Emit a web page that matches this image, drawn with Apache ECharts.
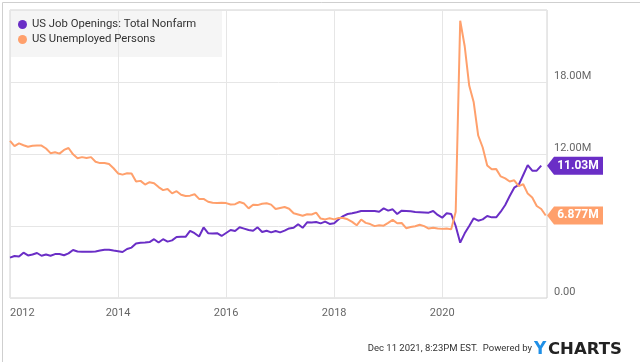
<!DOCTYPE html>
<html><head><meta charset="utf-8">
<script src="https://cdn.jsdelivr.net/npm/echarts@6/dist/echarts.min.js"></script>
<style>html,body{margin:0;padding:0;background:#fff}#c{width:640px;height:362px}</style>
</head><body><div id="c"></div>
<script>
// Monthly data (millions), first month = Dec 2011, plotted at month end
const startYear = 2011, startMonth = 12;
const seriesNames = ['US Job Openings: Total Nonfarm', 'US Unemployed Persons'];
const jobOpenings = [3.36,
  3.50,3.45,3.78,3.55,3.62,3.75,3.52,3.62,3.52,3.66,3.66,3.56,
  3.72,4.00,3.88,3.85,3.85,3.85,3.88,3.95,4.02,4.02,3.95,3.90,
  3.83,4.08,4.20,4.55,4.60,4.62,4.66,4.90,4.62,4.90,4.70,4.80,
  5.08,5.10,5.10,5.60,5.40,5.12,5.88,5.40,5.38,5.40,5.17,5.42,
  5.67,5.58,5.89,5.78,5.67,5.60,5.89,5.50,5.60,5.47,5.58,5.47,
  5.62,5.80,5.85,6.15,5.85,6.31,6.30,6.33,6.22,6.36,6.17,6.22,
  6.56,6.83,7.00,7.06,7.15,7.25,7.25,7.25,7.25,7.19,7.47,7.28,
  7.39,7.00,7.28,7.25,7.22,7.17,7.15,7.13,7.11,7.25,6.92,6.69,
  7.06,7.00,6.00,4.61,5.39,6.00,6.64,6.44,6.55,6.83,6.72,6.72,
  7.19,7.75,8.50,9.19,9.42,10.25,11.08,10.61,10.61,11.03];
const unemployed = [13.10,
  12.65,12.88,12.73,12.60,12.69,12.70,12.70,12.46,12.07,12.14,12.03,12.34,
  12.50,11.97,11.65,11.74,11.67,11.74,11.36,11.24,11.25,11.16,10.81,10.38,
  10.28,10.39,10.38,9.70,9.76,9.45,9.65,9.57,9.24,8.99,9.09,8.72,
  8.90,8.61,8.50,8.53,8.64,8.26,8.26,8.02,7.93,7.92,7.93,7.91,
  7.79,7.82,8.00,7.87,7.47,7.77,7.74,7.85,7.90,7.78,7.41,7.50,
  7.58,7.44,7.06,6.96,6.86,6.98,6.96,7.12,6.62,6.55,6.64,6.55,
  6.66,6.67,6.56,6.34,6.06,6.54,6.26,6.16,5.99,6.06,6.03,6.26,
  6.51,6.23,6.25,5.82,5.91,5.98,6.10,5.99,5.79,5.86,5.80,5.76,
  5.80,5.72,7.19,23.11,20.98,17.70,16.31,13.54,12.54,11.05,10.73,10.74,
  10.13,9.97,9.71,9.81,9.32,9.48,8.70,8.38,7.67,7.42,6.877];
const xMin = 2012, xMax = 2021.94, xStep = 2;
const yMin = 0, yMax = 24, yStep = 6;
const yLabelsShown = [0, 12, 18];
const colors = ['#6a2ec6', '#ffa06c'];
const stampText = 'Dec 11 2021, 8:23PM EST.  Powered by';

// month-end position as fractional year
function monthPos(i) { const total = startMonth + i; return startYear + total / 12; }
const toPairs = arr => arr.map((v, i) => [monthPos(i), v]);

const chart = echarts.init(document.getElementById('c'), null, {renderer: 'canvas'});
const font = 'Roboto, "Liberation Sans", sans-serif';
function tag(name, arr, color) {
  const last = arr[arr.length - 1];
  return {
    name: name, type: 'line', data: toPairs(arr), showSymbol: false, symbol: 'none',
    lineStyle: {color: color, width: 2}, itemStyle: {color: color}, clip: true,
    markPoint: {
      symbol: 'path://M0,9 L7,0 L56,0 L56,18 L7,18 Z', symbolSize: [56, 18], symbolOffset: ['50%', 0],
      itemStyle: {color: color},
      label: {show: true, position: 'inside', offset: [3, 0], color: '#fff', fontWeight: 'bold', fontSize: 12, fontFamily: font,
        formatter: p => p.value.toPrecision(4) + 'M'},
      data: [{coord: [xMax, last], value: last}], animation: false
    }
  };
}
chart.setOption({
  animation: false,
  color: colors,
  grid: {left: 10, right: 93, top: 10, bottom: 64, show: true, borderColor: '#d3d3d3', borderWidth: 1},
  xAxis: {type: 'value', min: xMin, max: xMax, interval: xStep,
    axisLine: {show: false}, axisTick: {show: false},
    splitLine: {show: true, lineStyle: {color: '#e6e6e6', width: 1}},
    axisLabel: {color: '#666', fontSize: 11, fontFamily: font, margin: 10, alignMinLabel: 'left', showMaxLabel: false,
      formatter: v => Number.isInteger(v) ? String(v) : ''}},
  yAxis: {type: 'value', position: 'right', min: yMin, max: yMax, interval: yStep,
    axisLine: {show: false}, axisTick: {show: false},
    splitLine: {show: true, lineStyle: {color: '#e6e6e6', width: 1}},
    axisLabel: {color: '#666', fontSize: 11, fontFamily: font, margin: 7, verticalAlign: 'bottom',
      formatter: v => yLabelsShown.includes(v) ? (v === 0 ? '0.00' : v.toFixed(2) + 'M') : ''}},
  legend: {orient: 'vertical', left: 13, top: 14, itemGap: 4, icon: 'circle', itemWidth: 9, itemHeight: 9,
    textStyle: {color: '#333', fontSize: 11.3, fontFamily: font}, data: seriesNames, selectedMode: false},
  graphic: [
    {type: 'rect', left: 10, top: 10, z: 0, shape: {width: 212, height: 47}, style: {fill: 'rgba(236,236,236,0.5)'}},
    {type: 'rect', left: 0, top: 0, z: 100, shape: {x: 0.5, y: 0.5, width: 639, height: 361}, style: {fill: 'none', stroke: '#cfcfcf', lineWidth: 1}},
    {type: 'text', right: 108, top: 344, style: {text: stampText, fill: '#333', font: '9.5px "Liberation Sans Narrow", Roboto, sans-serif'}},
    {type: 'text', left: 534, top: 341, style: {text: 'Y', fill: '#1f8fe6', font: 'bold 17px "DejaVu Sans", Roboto, sans-serif'}},
    {type: 'text', left: 548, top: 341, style: {text: 'CHARTS', fill: '#222', font: 'bold 16.5px "DejaVu Sans", Roboto, sans-serif'}}
  ],
  series: [tag(seriesNames[0], jobOpenings, colors[0]), tag(seriesNames[1], unemployed, colors[1])]
});
</script></body></html>
